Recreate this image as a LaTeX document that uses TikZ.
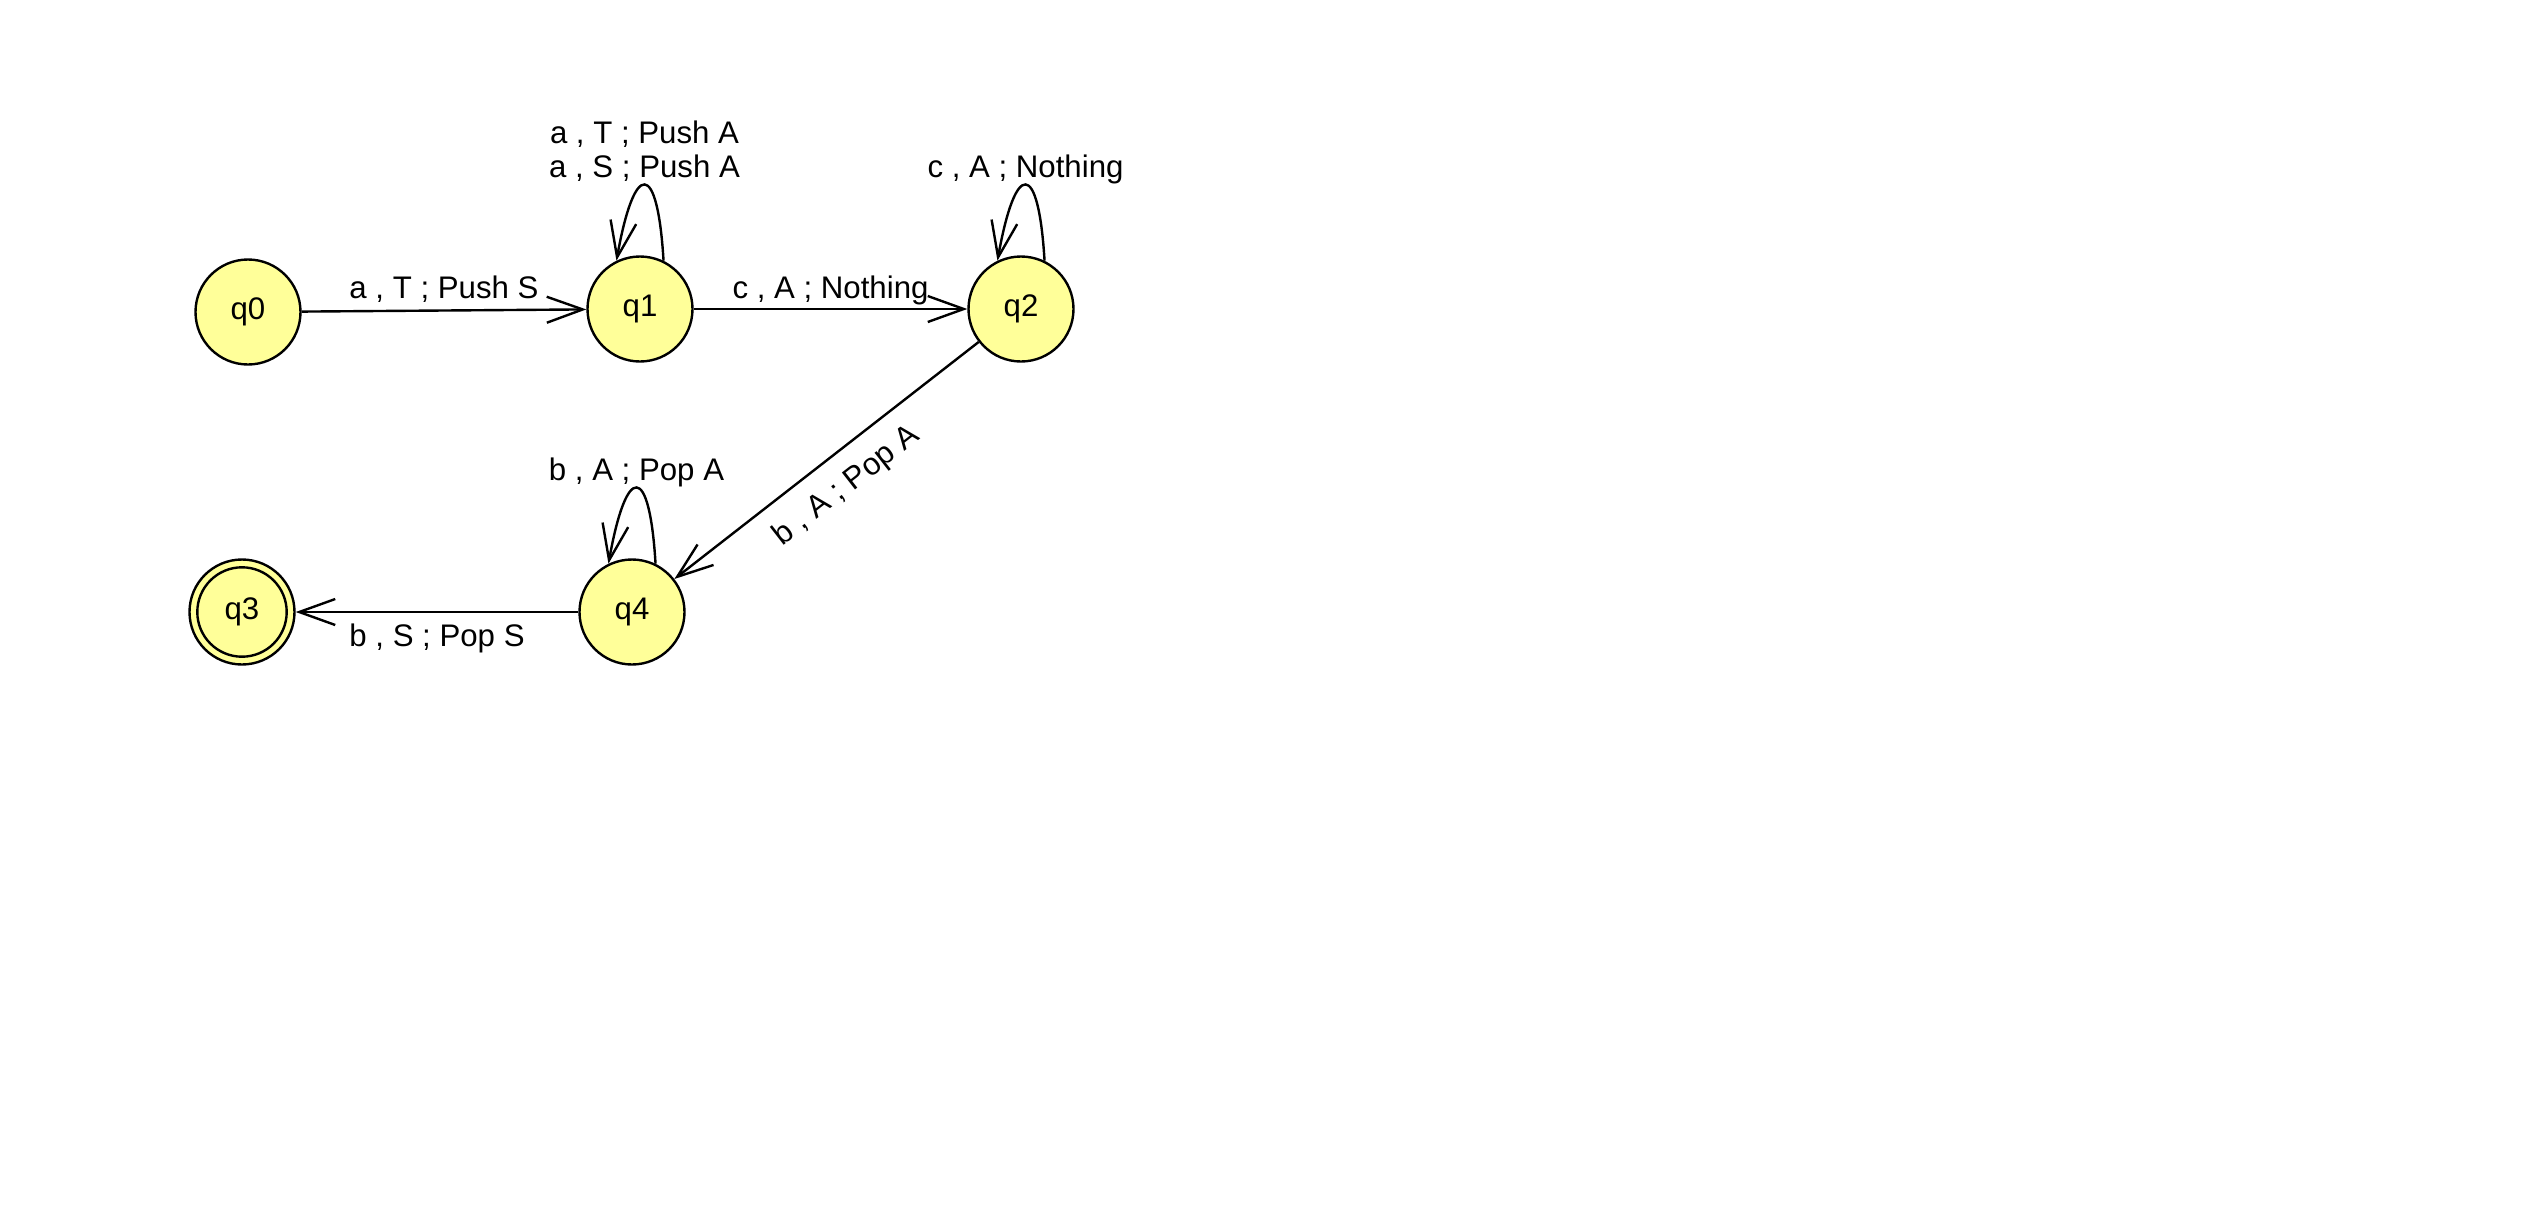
\documentclass[tikz,border=0pt]{standalone}
\usepackage{fontspec}
\setmainfont{Liberation Sans}
\usetikzlibrary{arrows.meta}
\definecolor{statefill}{RGB}{255,255,153}
\begin{document}
\begin{tikzpicture}[x=0.5pt,y=-0.5pt,
  state/.style={circle, draw, line width=1.2pt, fill=statefill, minimum size=52.5pt, inner sep=0pt, font=\fontsize{15.6}{17}\selectfont},
  accepting/.style={path picture={\draw[line width=1.2pt] (path picture bounding box.center) circle (22.35pt);}},
  edge/.style={line width=1.2pt, -{Straight Barb[length=18pt,width=13pt]}},
  lbl/.style={font=\fontsize{15.6}{17}\selectfont, inner sep=0pt, anchor=base}]
\useasboundingbox (0,0) rectangle (2533,1227);

\node[state] (q0) at (248,312) {q0};
\node[state] (q1) at (640,309) {q1};
\node[state] (q2) at (1021,309) {q2};
\node[state] (q4) at (632,612) {q4};
\node[state, accepting] (q3) at (242,612) {q3};

\draw[edge] (q0) -- node[lbl, midway, yshift=6pt] {a , T ; Push S} (q1);
\draw[edge] (q1) -- node[lbl, midway, yshift=5.5pt] {c , A ; Nothing} (q2);
\draw[edge] (q2) -- node[lbl, midway, sloped, yshift=-20.4pt] {b , A ; Pop A} (q4);
\draw[edge] (q4) -- node[lbl, midway, yshift=-17.2pt] {b , S ; Pop S} (q3);

\draw[edge] (q1.64) .. controls +(-6,-101) and +(18,-101) .. (q1.116)
  node[lbl, pos=0.5, yshift=3.5pt] {a , S ; Push A}
  node[lbl, pos=0.5, yshift=20.5pt] {a , T ; Push A};
\draw[edge] (q2.64) .. controls +(-6,-101) and +(18,-101) .. (q2.116)
  node[lbl, pos=0.5, yshift=3.5pt] {c , A ; Nothing};
\draw[edge] (q4.64) .. controls +(-6,-101) and +(18,-101) .. (q4.116)
  node[lbl, pos=0.5, yshift=3.5pt] {b , A ; Pop A};
\end{tikzpicture}
\end{document}
